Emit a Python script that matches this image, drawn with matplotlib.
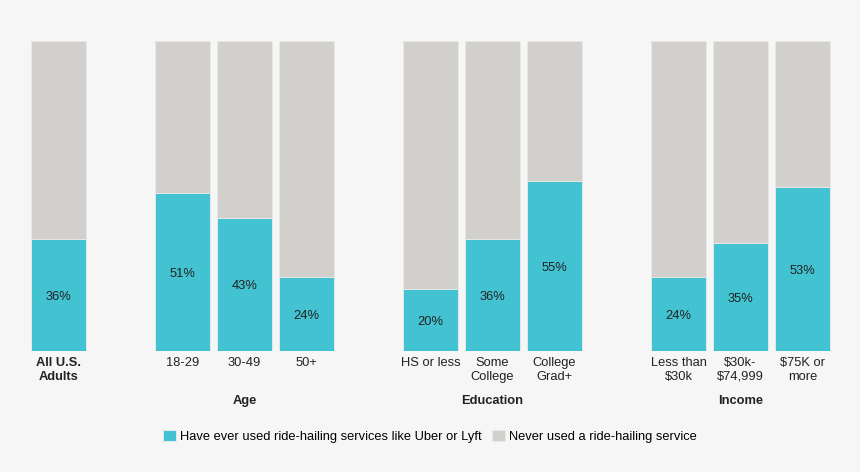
import matplotlib.pyplot as plt

plt.rcParams['font.family'] = ['Liberation Sans', 'DejaVu Sans']

# data
labels = ['All U.S.\nAdults', '18-29', '30-49', '50+', 'HS or less', 'Some\nCollege',
          'College\nGrad+', 'Less than\n$30k', '$30k-\n$74,999', '$75K or\nmore']
positions = [0, 2, 3, 4, 6, 7, 8, 10, 11, 12]
used = [36, 51, 43, 24, 20, 36, 55, 24, 35, 53]
never = [100 - v for v in used]
groups = ['Age', 'Education', 'Income']
group_pos = [3, 7, 11]

teal = '#43c2d1'
grey = '#d1d0cc'
bg = '#f6f6f6'
fs = 9.3

fig = plt.figure(figsize=(8.6, 4.72), dpi=100, facecolor=bg)
ax = fig.add_axes([0, 121 / 472, 1, 310 / 472])
ax.set_facecolor(bg)

w = 55 / 62
ax.bar(positions, used, width=w, color=teal, edgecolor='#e9eeee', linewidth=0.6,
       label='Have ever used ride-hailing services like Uber or Lyft')
ax.bar(positions, never, width=w, bottom=used, color=grey, edgecolor='#e9e9e7', linewidth=0.6,
       label='Never used a ride-hailing service')

for p, v in zip(positions, used):
    ax.text(p, v / 2 - 0.6, f'{v}%', ha='center', va='center', fontsize=fs, color='#222222')

ax.set_xlim(-58.5 / 62, (860 - 58.5) / 62)
ax.set_ylim(0, 100)
ax.set_xticks(positions)
ax.set_xticklabels(labels, fontsize=fs, color='#222222', linespacing=1.25)
ax.get_xticklabels()[0].set_fontweight('bold')
ax.tick_params(axis='x', length=0, pad=4)
ax.set_yticks([])
for s in ax.spines.values():
    s.set_visible(False)

for g, p in zip(groups, group_pos):
    ax.text(p, -16, g, ha='center', va='center', fontsize=fs, fontweight='bold', color='#222222')

ax.legend(loc='center', bbox_to_anchor=(0.5, -0.275), ncol=2, frameon=False, fontsize=fs,
          handlelength=1.0, handleheight=1.0, handletextpad=0.3, columnspacing=0.8)

fig.savefig('out.png', dpi=100, facecolor=bg)
